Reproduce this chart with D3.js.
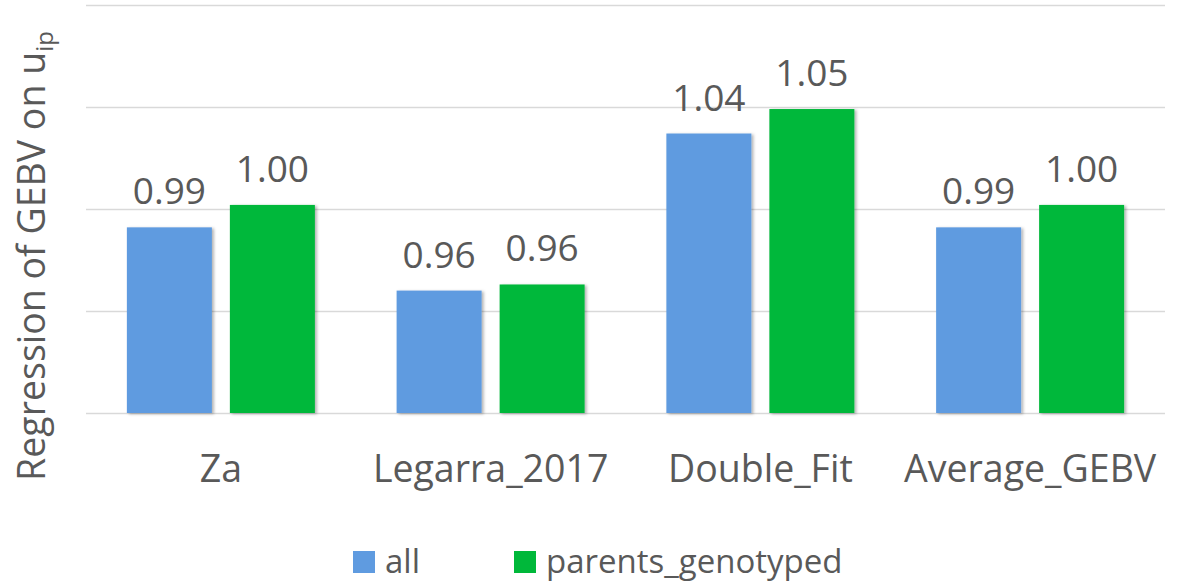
<!DOCTYPE html>
<html lang="en">
<head>
<meta charset="UTF-8">
<title>Regression of GEBV</title>
<script src="https://cdn.jsdelivr.net/npm/d3@7"></script>
<style>
  body { margin: 0; background: #fff; }
  text { font-family: "Open Sans", sans-serif; fill: #595959; }
</style>
</head>
<body>
<svg id="chart" width="1188" height="583"></svg>
<script>
const categories = ["Za", "Legarra_2017", "Double_Fit", "Average_GEBV"];
const seriesNames = ["all", "parents_genotyped"];
const allValues = [0.991, 0.960, 1.037, 0.991];
const parentsValues = [1.002, 0.963, 1.049, 1.002];
const gridTicks = [0.90, 0.95, 1.00, 1.05, 1.10];
const colors = ["#5f9be0", "#00b83a"];

const svg = d3.select("#chart");
const mLeft = 86, mRight = 1165, mTop = 5, mBottom = 413;

const x = d3.scaleBand().domain(categories).range([mLeft, mRight]);
const x1 = d3.scaleBand().domain(seriesNames).range([0, 188]).paddingInner(18 / 103);
const y = d3.scaleLinear().domain([0.90, 1.10]).range([mBottom, mTop]);

const defs = svg.append("defs");
const f = defs.append("filter").attr("id", "shadow").attr("x", "-10%").attr("y", "-10%").attr("width", "130%").attr("height", "130%");
f.append("feDropShadow").attr("dx", 2).attr("dy", 1).attr("stdDeviation", 1.5).attr("flood-color", "#000").attr("flood-opacity", 0.3);

// grid
svg.append("g").selectAll("line").data(gridTicks).enter().append("line")
  .attr("x1", mLeft).attr("x2", mRight)
  .attr("y1", d => Math.round(y(d)) + 0.5).attr("y2", d => Math.round(y(d)) + 0.5)
  .attr("stroke", "#d9d9d9").attr("stroke-width", 1.5);

const rows = categories.map((c, i) => ({ cat: c, vals: [allValues[i], parentsValues[i]] }));
const groups = svg.append("g").selectAll("g").data(rows).enter().append("g")
  .attr("transform", d => `translate(${x(d.cat) + (x.bandwidth() - 188) / 2},0)`);

groups.selectAll("rect").data(d => d.vals.map((v, j) => ({ s: seriesNames[j], v, j })))
  .enter().append("rect")
  .attr("x", d => x1(d.s)).attr("width", x1.bandwidth())
  .attr("y", d => y(d.v)).attr("height", d => mBottom - y(d.v))
  .attr("fill", d => colors[d.j])
  .attr("filter", "url(#shadow)");

groups.selectAll("text.lbl").data(d => d.vals.map((v, j) => ({ s: seriesNames[j], v, j })))
  .enter().append("text").attr("class", "lbl")
  .attr("x", d => x1(d.s) + x1.bandwidth() / 2)
  .attr("y", d => y(d.v) - 23)
  .attr("text-anchor", "middle")
  .attr("font-size", 37)
  .text(d => d3.format(".2f")(d.v));

// x axis labels
const xAxis = d3.axisBottom(x).tickSize(0).tickPadding(0);
const gx = svg.append("g").attr("transform", `translate(0,${mBottom})`).call(xAxis);
gx.select(".domain").remove();
gx.selectAll("text").attr("font-size", 37.5).attr("dy", 0).attr("y", 69).style("fill", "#595959")
  .style("font-family", "'Open Sans', sans-serif");

// y title
const yt = svg.append("text")
  .attr("transform", `translate(45,${256}) rotate(-90)`)
  .attr("text-anchor", "middle").attr("font-size", 37.5);
yt.append("tspan").text("Regression of GEBV on u");
yt.append("tspan").attr("font-size", 24).attr("dy", 8).text("ip");

// legend
const legX = [353, 514];
const leg = svg.append("g").selectAll("g").data(seriesNames).enter().append("g")
  .attr("transform", (d, i) => `translate(${legX[i]},551)`);
leg.append("rect").attr("width", 22).attr("height", 22).attr("fill", (d, i) => colors[i]);
leg.append("text").attr("x", 32).attr("y", 22).attr("font-size", 33).text(d => d);
</script>
</body>
</html>
